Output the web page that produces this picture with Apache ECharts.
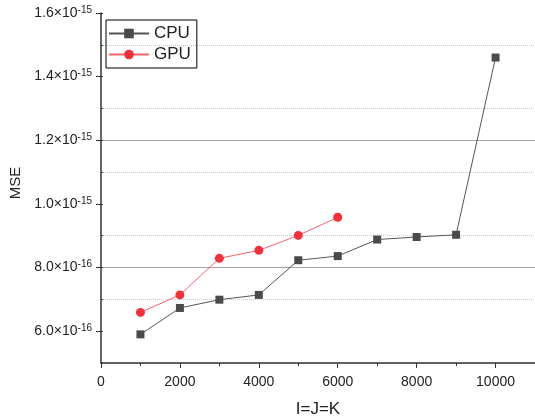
<!DOCTYPE html>
<html>
<head>
<meta charset="utf-8">
<script src="https://cdn.jsdelivr.net/npm/echarts@6/dist/echarts.min.js"></script>
<style>
  html, body { margin: 0; padding: 0; background: #fff; }
  #chart { width: 535px; height: 420px; }
</style>
</head>
<body>
<div id="chart"></div>
<script>
// problem size I=J=K
const sizes = [1000, 2000, 3000, 4000, 5000, 6000, 7000, 8000, 9000, 10000]
const cpuMse = [5.9e-16, 6.73e-16, 6.99e-16, 7.14e-16, 8.23e-16, 8.36e-16, 8.88e-16, 8.96e-16, 9.03e-16, 1.46e-15]
const gpuMse = [6.59e-16, 7.14e-16, 8.29e-16, 8.54e-16, 9.01e-16, 9.58e-16]

// labelled ticks
const yTicks = [6e-16, 8e-16, 1e-15, 1.2e-15, 1.4e-15, 1.6e-15]
const xTicks = [0, 2000, 4000, 6000, 8000, 10000]

const FONT = 'Liberation Sans, Arial, sans-serif'

function sciLabel(v) {
  // 6.0×10^-16 style
  const e = Math.floor(Math.log10(v) + 1e-9)
  const m = (v / Math.pow(10, e)).toFixed(1)
  return '{b|' + m + '×10}{s|' + e + '}'
}

function isTick(list, v) {
  return list.some(t => Math.abs(t - v) < Math.abs(t) * 1e-6 + 1e-30)
}

const chart = echarts.init(document.getElementById('chart'))

const yBase = {
  type: 'value',
  position: 'left',
  min: 5e-16,
  max: 1.6e-15,
  interval: 1e-16
}

chart.setOption({
  animation: false,
  grid: {
    left: 101,
    right: 0,
    top: 13,
    bottom: 57,
    outerBoundsMode: 'none'
  },
  legend: {
    orient: 'vertical',
    left: 106,
    top: 20,
    borderColor: '#000',
    borderWidth: 1,
    padding: [5, 6, 5, 2],
    itemGap: 4,
    itemWidth: 40,
    itemHeight: 12,
    textStyle: { fontFamily: FONT, fontSize: 17, color: '#222' },
    data: ['CPU', 'GPU']
  },
  xAxis: {
    type: 'value',
    min: 0,
    max: 11000,
    interval: 2000,
    name: 'I=J=K',
    nameLocation: 'middle',
    nameGap: 38,
    nameTextStyle: { fontFamily: FONT, fontSize: 17, color: '#222' },
    axisLine: { show: true, lineStyle: { color: '#333', width: 1.5 } },
    axisTick: { show: true, length: 5, lineStyle: { color: '#333' } },
    minorTick: { show: true, splitNumber: 2, length: 3, lineStyle: { color: '#333' } },
    splitLine: { show: false },
    axisLabel: {
      margin: 12,
      fontFamily: FONT,
      fontSize: 14,
      color: '#222',
      formatter: v => isTick(xTicks, v) ? String(v) : ''
    }
  },
  yAxis: [
    Object.assign({}, yBase, {
      name: 'MSE',
      nameLocation: 'middle',
      nameGap: 78,
      nameRotate: 90,
      nameTextStyle: { fontFamily: FONT, fontSize: 15, color: '#222', padding: [0, 0, 0, 10] },
      axisLine: { show: true, lineStyle: { color: '#333', width: 1.5 } },
      axisTick: { show: true, length: 5, customValues: yTicks, lineStyle: { color: '#333' } },
      splitLine: {
        show: true,
        showMaxLine: false,
        lineStyle: { color: ['transparent', '#a3a3a3'], width: 1, type: 'solid' }
      },
      axisLabel: {
        margin: 9,
        color: '#222',
        formatter: v => isTick(yTicks, v) ? sciLabel(v) : '',
        rich: {
          b: { fontFamily: FONT, fontSize: 14, color: '#222', lineHeight: 16 },
          s: { fontFamily: FONT, fontSize: 10, color: '#222', verticalAlign: 'top', lineHeight: 10 }
        }
      }
    }),
    Object.assign({}, yBase, {
      axisLine: { show: false },
      axisTick: { show: true, inside: true, length: 2, lineStyle: { color: '#333' } },
      axisLabel: { show: false },
      splitLine: {
        show: true,
        showMaxLine: false,
        lineStyle: { color: ['#c8c8c8', 'transparent'], width: 1, type: 'dotted' }
      }
    })
  ],
  series: [
    {
      name: 'CPU',
      type: 'line',
      yAxisIndex: 0,
      data: sizes.map((s, i) => [s, cpuMse[i]]),
      symbol: 'rect',
      symbolSize: 8,
      itemStyle: { color: '#4a4a4a' },
      lineStyle: { color: '#555', width: 1 },
      z: 3
    },
    {
      name: 'GPU',
      type: 'line',
      yAxisIndex: 0,
      data: gpuMse.map((v, i) => [sizes[i], v]),
      symbol: 'circle',
      symbolSize: 9,
      itemStyle: { color: '#f0323c' },
      lineStyle: { color: '#f2636a', width: 1 },
      z: 4
    }
  ]
})
</script>
</body>
</html>
